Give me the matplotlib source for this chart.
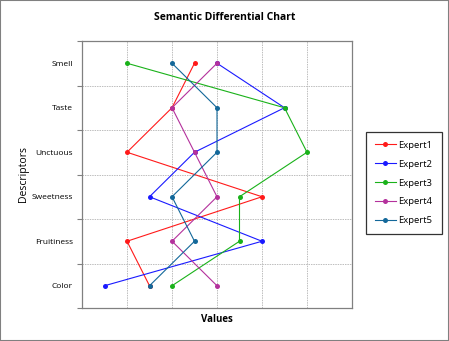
import matplotlib
matplotlib.use("Agg")
import matplotlib.pyplot as plt
from matplotlib.patches import Rectangle

descriptors = ["Smell", "Taste", "Unctuous", "Sweetness", "Fruitiness", "Color"]
expert1 = [2.5, 2.0, 1.0, 4.0, 1.0, 1.5]
expert2 = [3.0, 4.5, 2.5, 1.5, 4.0, 0.5]
expert3 = [1.0, 4.5, 5.0, 3.5, 3.5, 2.0]
expert4 = [3.0, 2.0, 2.5, 3.0, 2.0, 3.0]
expert5 = [2.0, 3.0, 3.0, 2.0, 2.5, 1.5]
series_names = ["Expert1", "Expert2", "Expert3", "Expert4", "Expert5"]
colors = ["#ff1a1a", "#1a1aff", "#1ab21a", "#b4319c", "#13689a"]

plt.rcParams["font.family"] = ["Open Sans", "DejaVu Sans"]

fig = plt.figure(figsize=(4.49, 3.41), dpi=100)
ax = fig.add_axes([82 / 449, 1 - 308 / 341, 270 / 449, 267 / 341])

n = len(descriptors)
ypos = [n - 0.5 - i for i in range(n)]

for name, vals, c in zip(series_names, [expert1, expert2, expert3, expert4, expert5], colors):
    ax.plot(vals, ypos, color=c, lw=0.8, marker="o", markersize=3.6,
            markeredgewidth=0, label=name)

ax.set_xlim(0, 6)
ax.set_ylim(0, n)
ax.set_xticks(range(1, 6))
ax.set_xticklabels([])
ax.tick_params(axis="x", length=0)
ax.set_yticks(ypos)
ax.set_yticklabels(descriptors, fontsize=6.0)
ax.tick_params(axis="y", which="major", length=0, pad=6.5)
ax.set_yticks(range(0, n + 1), minor=True)
ax.tick_params(axis="y", which="minor", length=3.5, width=0.8, color="#808080")
ax.grid(True, which="major", axis="x", color="#bdbdbd", lw=0.7, ls=(0, (1.5, 1)))
ax.grid(True, which="minor", axis="y", color="#bdbdbd", lw=0.7, ls=(0, (1.5, 1)))
for s in ax.spines.values():
    s.set_color("#808080")
    s.set_linewidth(0.9)

ax.set_xlabel("Values", fontsize=7, fontweight="bold", labelpad=1)
ax.set_ylabel("Descriptors", fontsize=7.5, labelpad=2)
fig.text(0.5, 1 - 18 / 341, "Semantic Differential Chart", ha="center", va="center",
         fontsize=7.5, fontweight="bold")

leg = fig.legend(loc="center left", bbox_to_anchor=(366 / 449, 1 - 183 / 341),
                 fontsize=6.8, frameon=True, fancybox=False, edgecolor="black",
                 handlelength=2.2, labelspacing=1.05, borderpad=0.95,
                 handletextpad=0.3, borderaxespad=0)
leg.get_frame().set_linewidth(0.9)

fig.patches.append(Rectangle((0, 0), 1, 1, transform=fig.transFigure, fill=False,
                             edgecolor="#808080", lw=1.5))

fig.savefig("out.png", dpi=100)
